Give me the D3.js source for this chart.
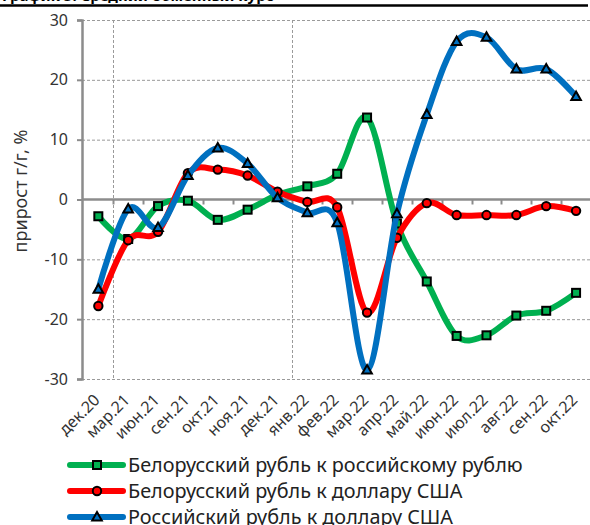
<!DOCTYPE html>
<html><head><meta charset="utf-8">
<script src="https://cdn.jsdelivr.net/npm/d3@7"></script>
<style>
html,body{margin:0;padding:0;background:#fff;overflow:hidden;}
svg{display:block;font-family:"Noto Sans","DejaVu Sans",sans-serif;}
</style></head>
<body>
<svg id="chart" width="590" height="525"></svg>
<script>
const categories = ["дек.20","мар.21","июн.21","сен.21","окт.21","ноя.21","дек.21","янв.22","фев.22","мар.22","апр.22","май.22","июн.22","июл.22","авг.22","сен.22","окт.22"];
const bynRub = [-2.8, -6.6, -1.1, -0.2, -3.4, -1.7, 0.8, 2.2, 4.3, 13.7, -4.0, -13.7, -22.8, -22.7, -19.4, -18.6, -15.6];
const bynUsd = [-17.8, -6.8, -5.4, 4.4, 5.0, 4.0, 1.3, -0.4, -1.3, -18.9, -6.4, -0.6, -2.6, -2.6, -2.6, -1.1, -1.9];
const rubUsd = [-15.0, -1.6, -4.7, 4.0, 8.6, 6.0, 0.3, -2.2, -3.9, -28.5, -2.4, 14.2, 26.4, 27.1, 21.8, 21.8, 17.2];
const seriesNames = ["Белорусский рубль к российскому рублю","Белорусский рубль к доллару США","Российский рубль к доллару США"];
const yTicks = [-30,-20,-10,0,10,20,30];
const yearStarts = ["мар.21","янв.22"];
const yTitle = "прирост г/г, %";
const title = "График 5. Средний обменный курс";

const series = [
  {name: seriesNames[0], values: bynRub, color: "#00B050", marker: "square"},
  {name: seriesNames[1], values: bynUsd, color: "#FF0000", marker: "circle"},
  {name: seriesNames[2], values: rubUsd, color: "#0070C0", marker: "triangle"}
];

const svg = d3.select("#chart");
const x = d3.scaleBand().domain(categories).range([83.4, 591]).padding(0);
const bw = x.bandwidth();
const cx = c => x(c) + bw/2;
const y = d3.scaleLinear().domain([-30,30]).range([379,20]);

// title (cut at top) and rule
svg.append("text").attr("x",2).attr("y",0.5).attr("font-size",15).attr("font-weight","bold").attr("fill","#000").text(title);
svg.append("line").attr("x1",0).attr("x2",588).attr("y1",5.5).attr("y2",5.5).attr("stroke","#000").attr("stroke-width",2.5);

// horizontal grid
svg.append("g").selectAll("line").data(yTicks.filter(t=>t!==0)).join("line")
  .attr("x1",82).attr("x2",590).attr("y1",d=>y(d)+0.5).attr("y2",d=>y(d)+0.5)
  .attr("stroke","#9a9a9a").attr("stroke-width",1).attr("stroke-dasharray","3,2");
// vertical grid
svg.append("g").selectAll("line").data(yearStarts).join("line")
  .attr("x1",d=>Math.round(x(d))+0.5).attr("x2",d=>Math.round(x(d))+0.5).attr("y1",y(30)).attr("y2",y(-30))
  .attr("stroke","#9a9a9a").attr("stroke-width",1).attr("stroke-dasharray","3,2");

// y axis
const yAxis = d3.axisLeft(y).tickValues(yTicks).tickSize(5).tickPadding(9).tickFormat(d => String(d));
const gy = svg.append("g").attr("transform","translate(82,0)").call(yAxis);
gy.select(".domain").attr("stroke","#8c8c8c").attr("stroke-width",2.5);
gy.selectAll(".tick line").attr("stroke","#8c8c8c").attr("stroke-width",2);
gy.selectAll(".tick text").attr("font-size",16).attr("fill","#333").attr("font-family","Noto Sans, DejaVu Sans, sans-serif");

// zero axis with ticks
const gx = svg.append("g").attr("transform",`translate(0,${y(0)})`)
  .call(d3.axisBottom(x).tickSize(0).tickFormat(""));
gx.select(".domain").attr("stroke","#8c8c8c").attr("stroke-width",2.5).attr("d",`M82,0H590`);
svg.append("g").selectAll("line").data(categories.slice(1)).join("line")
  .attr("x1",d=>Math.round(x(d))+0.5).attr("x2",d=>Math.round(x(d))+0.5)
  .attr("y1",y(0)).attr("y2",y(0)+5).attr("stroke","#8c8c8c").attr("stroke-width",2);

// x labels
svg.append("g").selectAll("text").data(categories).join("text")
  .attr("transform",d=>`translate(${cx(d)+2.5},${401}) rotate(-45)`)
  .attr("text-anchor","end").attr("font-size",16).attr("fill","#333").text(d=>d);

// y title
svg.append("text").attr("transform","translate(27,191) rotate(-90)").attr("text-anchor","middle")
  .attr("font-size",18).attr("fill","#333").text(yTitle);

// lines
const line = d3.line().x((d,i)=>cx(categories[i])).y(d=>y(d)).curve(d3.curveCardinal.tension(0));
function drawMarker(g, type, color, px, py){
  if(type==="square") g.append("rect").attr("x",px-4).attr("y",py-4).attr("width",8).attr("height",8)
      .attr("fill",color).attr("stroke","#000").attr("stroke-width",2);
  else if(type==="circle") g.append("circle").attr("cx",px).attr("cy",py).attr("r",4.2)
      .attr("fill",color).attr("stroke","#000").attr("stroke-width",2);
  else g.append("path").attr("d",`M${px},${py-5}L${px+4.8},${py+3.5}L${px-4.8},${py+3.5}Z`)
      .attr("fill",color).attr("stroke","#000").attr("stroke-width",2).attr("stroke-linejoin","miter");
}
series.forEach(s=>{
  const g = svg.append("g");
  g.append("path").attr("d",line(s.values)).attr("fill","none").attr("stroke",s.color)
    .attr("stroke-width",6).attr("stroke-linecap","round").attr("stroke-linejoin","round");
  s.values.forEach((v,i)=>drawMarker(g, s.marker, s.color, cx(categories[i]), y(v)));
});

// legend
const legRows = [465, 491, 517];
const lg = svg.append("g");
series.forEach((s,i)=>{
  const ly = legRows[i];
  lg.append("line").attr("x1",70).attr("x2",123).attr("y1",ly).attr("y2",ly).attr("stroke",s.color)
    .attr("stroke-width",6).attr("stroke-linecap","round");
  drawMarker(lg, s.marker, s.color, 97, ly);
  const t = lg.append("text").attr("x",128).attr("y",ly+7).attr("font-size",20).attr("fill","#222").text(s.name);
  if(i===0){
    const len = t.node().getComputedTextLength();
    const fs = 20*395/len;
    lg.selectAll("text").attr("font-size",fs);
  }
  lg.selectAll("text").attr("font-size", lg.select("text").attr("font-size"));
});
</script>
</body></html>
